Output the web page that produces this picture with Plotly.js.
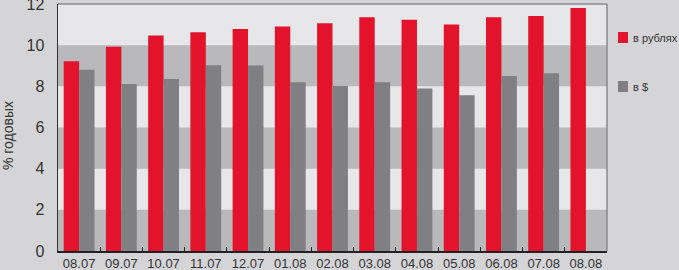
<!DOCTYPE html>
<html>
<head>
<meta charset="utf-8">
<script src="https://cdn.plot.ly/plotly-3.0.1.min.js"></script>
<style>html,body{margin:0;padding:0;background:#d5d5d7;}#chart{width:679px;height:270px;}</style>
</head>
<body>
<div id="chart"></div>
<script>
const months = ["08.07","09.07","10.07","11.07","12.07","01.08","02.08","03.08","04.08","05.08","06.08","07.08","08.08"];
const rubValues = [9.22, 9.92, 10.47, 10.63, 10.79, 10.91, 11.07, 11.36, 11.23, 11.0, 11.36, 11.42, 11.81];
const usdValues = [8.80, 8.11, 8.36, 9.03, 9.01, 8.20, 8.02, 8.20, 7.89, 7.57, 8.50, 8.63, null];
const seriesNames = ["в рублях", "в $"];
const seriesColors = ["#e2132b", "#808084"];
const yTicks = [0, 2, 4, 6, 8, 10, 12];
const bands = [[0,2],[4,6],[8,10]];
const yTitle = "% годовых";

const fam = "Liberation Sans, Arial, sans-serif";
const f = (size) => ({family:fam, size:size, color:"#333"});

const traces = [
  {type:"bar", x:months, y:rubValues, name:seriesNames[0], marker:{color:seriesColors[0]}},
  {type:"bar", x:months, y:usdValues, name:seriesNames[1], marker:{color:seriesColors[1]}}
];

const shapes = bands.map(b => ({type:"rect", xref:"paper", yref:"y", x0:0, x1:1, y0:b[0], y1:b[1],
  fillcolor:"#b9b9bb", line:{width:0}, layer:"below"}));

// legend (drawn as layout decorations)
const legendRows = [{y0:0.8421, y1:0.8866, ty:0.8623}, {y0:0.6437, y1:0.6883, ty:0.662}];
legendRows.forEach((r, i) => {
  shapes.push({type:"rect", xref:"paper", yref:"paper", x0:1.020, x1:1.0383, y0:r.y0, y1:r.y1,
    fillcolor:seriesColors[i], line:{width:0}});
});
const annotations = legendRows.map((r, i) => ({xref:"paper", yref:"paper", x:1.0437, y:r.ty,
  xanchor:"left", yanchor:"middle", text:seriesNames[i], showarrow:false, font:f(11)}));
annotations.push({xref:"paper", yref:"paper", x:-0.091, y:0.4656, xanchor:"center", yanchor:"middle",
  text:yTitle, textangle:-90, showarrow:false, font:f(14)});

const layout = {
  width:679, height:270,
  margin:{l:58, r:72, t:4, b:19, pad:0},
  paper_bgcolor:"#d5d5d7",
  plot_bgcolor:"#e7e7e9",
  barmode:"group",
  bargap:0.27,
  bargroupgap:0,
  font:f(14),
  showlegend:false,
  xaxis:{type:"category", tickson:"boundaries", ticks:"inside", ticklen:4, tickcolor:"#222",
    showline:true, linecolor:"#222", linewidth:1.5, showgrid:false, tickangle:0,
    tickfont:f(13), fixedrange:true, ticklabeloverflow:"allow"},
  yaxis:{range:[0,12], tickvals:yTicks, ticktext:yTicks.map(String), showgrid:false, zeroline:false,
    showline:true, linecolor:"#333", linewidth:1.5, ticks:"", ticklabelstandoff:9,
    ticklabeloverflow:"allow", tickfont:f(16)},
  shapes: shapes.concat([
    {type:"line", xref:"paper", yref:"paper", x0:0, x1:1, y0:1, y1:1, line:{color:"#888", width:1.5}},
    {type:"line", xref:"paper", yref:"paper", x0:1, x1:1, y0:0, y1:1, line:{color:"#888", width:1.5}}
  ]),
  annotations: annotations
};

Plotly.newPlot("chart", traces, layout, {displayModeBar:false, staticPlot:true});
</script>
</body>
</html>
